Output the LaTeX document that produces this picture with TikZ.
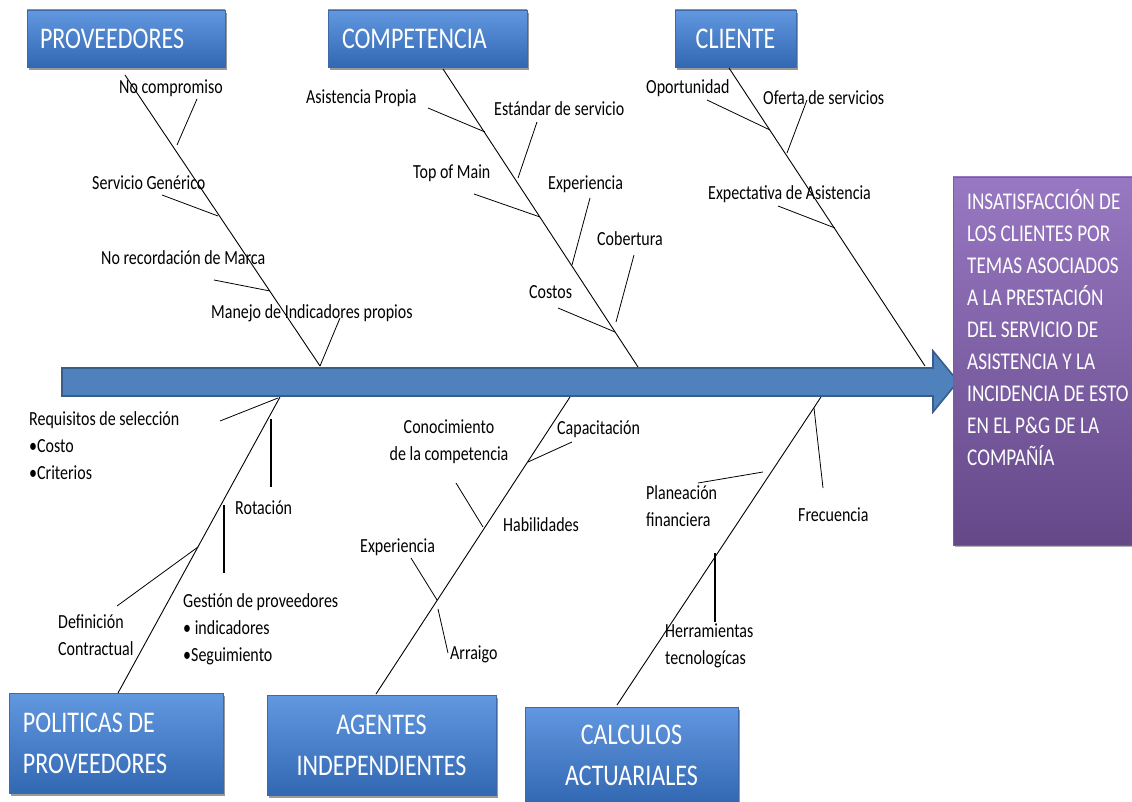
\documentclass[tikz,border=0pt]{standalone}
\usepackage{fontspec}
\setmainfont[FakeStretch=0.8]{Carlito}
\usetikzlibrary{shadows}
\definecolor{boxtop}{RGB}{98,152,224}
\definecolor{boxbot}{RGB}{50,104,178}
\definecolor{boxedge}{RGB}{62,104,166}
\definecolor{arrowfill}{RGB}{79,129,189}
\definecolor{arrowedge}{RGB}{56,93,138}
\definecolor{purtop}{RGB}{152,120,194}
\definecolor{purbot}{RGB}{100,72,136}
\definecolor{puredge}{RGB}{120,92,160}
\begin{document}
\begin{tikzpicture}[x=1pt,y=-1pt,
  catbox/.style={draw=boxedge, line width=0.8pt, top color=boxtop, bottom color=boxbot,
    text=white, inner ysep=0pt, minimum height=#1,
    general shadow={fill=black!40, shadow xshift=2pt, shadow yshift=-3pt},
    font=\fontsize{30}{41}\selectfont},
  effbox/.style={draw=puredge, line width=0.8pt, top color=purtop, bottom color=purbot,
    general shadow={fill=black!30, shadow xshift=2pt, shadow yshift=-2pt}},
  efftxt/.style={anchor=west, inner sep=0pt, text=white, align=left,
    font=\fontsize{24}{32}\selectfont},
  lbl/.style={anchor=west, inner sep=0pt, align=left, font=\fontsize{20}{27}\selectfont},
  bone/.style={black, line width=0.9pt},
  twig/.style={black, line width=0.8pt},
  stick/.style={black, line width=2pt}
]
\useasboundingbox (0,0) rectangle (1132,802);

% ---------- main arrow ----------
\draw[fill=arrowfill, draw=arrowedge, line width=1.6pt, line join=miter]
  (62,368) -- (933,368) -- (933,351) -- (958,381.5) -- (933,412) -- (933,396) -- (62,396) -- cycle;

% ---------- category boxes ----------
\node[catbox=57pt, text width=172pt, inner xsep=13pt, align=flush left] (prov) at (126,38.5) {PROVEEDORES};
\node[catbox=57pt, text width=171pt, inner xsep=14pt, align=flush left] (comp) at (427.5,38.5) {COMPETENCIA};
\node[catbox=57pt, text width=101pt, inner xsep=10pt, align=flush center] (cli) at (735.5,38.5) {CLIENTE};
\node[catbox=100pt, text width=186pt, inner xsep=14pt, align=flush left] (pol) at (116,743) {POLITICAS DE\\PROVEEDORES};
\node[catbox=100pt, text width=209pt, inner xsep=10pt, align=flush center] (age) at (381.5,745) {AGENTES\\INDEPENDIENTES};
\node[catbox=96pt, text width=193pt, inner xsep=10pt, align=flush center] (cal) at (631.5,755) {CALCULOS\\ACTUARIALES};

% ---------- effect box ----------
\node[effbox, minimum width=179pt, minimum height=368pt, inner sep=0pt] (eff) at (1042.5,361) {};
\node[efftxt] (efft) at (967,328) {INSATISFACCIÓN DE\\LOS CLIENTES POR\\TEMAS ASOCIADOS\\A LA PRESTACIÓN\\DEL SERVICIO DE\\ASISTENCIA Y LA\\INCIDENCIA DE ESTO\\EN EL P\&G DE LA\\COMPAÑÍA};

% ---------- coordinates of bones ----------
\coordinate (b1s) at (125,75);  \coordinate (b1e) at (320,366);
\coordinate (b2s) at (443,69);  \coordinate (b2e) at (638,367);
\coordinate (b3s) at (729,68);  \coordinate (b3e) at (925,366);
\coordinate (b4s) at (280,397); \coordinate (b4e) at (118,693);
\coordinate (b5s) at (570,397); \coordinate (b5e) at (376,694);
\coordinate (b6s) at (821,397); \coordinate (b6e) at (617,705);

\draw[bone] (b1s) -- (b1e);
\draw[bone] (b2s) -- (b2e);
\draw[bone] (b3s) -- (b3e);
\draw[bone] (b4s) -- (b4e);
\draw[bone] (b5s) -- (b5e);
\draw[bone] (b6s) -- (b6e);

% ---------- PROVEEDORES twigs ----------
\coordinate (p1a) at (197,99);  \coordinate (p1b) at (177,145);
\coordinate (p2a) at (162,195); \coordinate (p2b) at (218,216);
\coordinate (p3a) at (214,280); \coordinate (p3b) at (270,291);
\coordinate (p4a) at (340,318);
\draw[twig] (p1a) -- (p1b);
\draw[twig] (p2a) -- (p2b);
\draw[twig] (p3a) -- (p3b);
\draw[twig] (p4a) -- (b1e);
\node[lbl] (tp1) at (119,88) {No compromiso};
\node[lbl] (tp2) at (92,183) {Servicio Genérico};
\node[lbl] (tp3) at (101,258) {No recordación de Marca};
\node[lbl] (tp4) at (211,313) {Manejo de Indicadores propios};

% ---------- COMPETENCIA twigs ----------
\coordinate (c1a) at (428,108); \coordinate (c1b) at (485,132);
\coordinate (c2a) at (537,122); \coordinate (c2b) at (518,178);
\coordinate (c3a) at (474,194); \coordinate (c3b) at (540,217);
\coordinate (c4a) at (590,198); \coordinate (c4b) at (572,265);
\coordinate (c5a) at (558,308); \coordinate (c5b) at (615,332);
\coordinate (c6a) at (634,255); \coordinate (c6b) at (616,322);
\draw[twig] (c1a) -- (c1b);
\draw[twig] (c2a) -- (c2b);
\draw[twig] (c3a) -- (c3b);
\draw[twig] (c4a) -- (c4b);
\draw[twig] (c5a) -- (c5b);
\draw[twig] (c6a) -- (c6b);
\node[lbl] (tc1) at (306,98) {Asistencia Propia};
\node[lbl] (tc2) at (494,109) {Estándar de servicio};
\node[lbl] (tc3) at (413,173) {Top of Main};
\node[lbl] (tc4) at (548,184) {Experiencia};
\node[lbl] (tc5) at (597,239) {Cobertura};
\node[lbl] (tc6) at (529,292) {Costos};

% ---------- CLIENTE twigs ----------
\coordinate (k1a) at (707,100); \coordinate (k1b) at (770,130);
\coordinate (k2a) at (807,100); \coordinate (k2b) at (787,153);
\coordinate (k3a) at (778,206); \coordinate (k3b) at (835,228);
\draw[twig] (k1a) -- (k1b);
\draw[twig] (k2a) -- (k2b);
\draw[twig] (k3a) -- (k3b);
\node[lbl] (tk1) at (646,88) {Oportunidad};
\node[lbl] (tk2) at (763,98) {Oferta de servicios};
\node[lbl] (tk3) at (708,194) {Expectativa de Asistencia};

% ---------- POLITICAS twigs ----------
\coordinate (q1a) at (220,421); \coordinate (q1b) at (278,398);
\coordinate (q2a) at (271,419); \coordinate (q2b) at (271,487);
\coordinate (q3a) at (117,606); \coordinate (q3b) at (198,547);
\coordinate (q4a) at (224,505); \coordinate (q4b) at (224,573);
\draw[twig] (q1a) -- (q1b);
\draw[stick] (q2a) -- (q2b);
\draw[twig] (q3a) -- (q3b);
\draw[stick] (q4a) -- (q4b);
\node[lbl] (tq1) at (29,446) {Requisitos de selección\\•Costo\\•Criterios};
\node[lbl] (tq2) at (235,508) {Rotación};
\node[lbl] (tq3) at (58,635) {Definición\\Contractual};
\node[lbl] (tq4) at (183,629) {Gestión de proveedores\\• indicadores\\•Seguimiento};

% ---------- AGENTES twigs ----------
\coordinate (a1a) at (572,442); \coordinate (a1b) at (528,462);
\coordinate (a2a) at (456,483); \coordinate (a2b) at (483,527);
\coordinate (a3a) at (411,558); \coordinate (a3b) at (437,600);
\coordinate (a4a) at (438,609); \coordinate (a4b) at (448,653);
\draw[twig] (a1a) -- (a1b);
\draw[twig] (a2a) -- (a2b);
\draw[twig] (a3a) -- (a3b);
\draw[twig] (a4a) -- (a4b);
\node[lbl, anchor=center, align=center] (ta1) at (449,442) {Conocimiento\\de la competencia};
\node[lbl] (ta2) at (557,429) {Capacitación};
\node[lbl] (ta3) at (503,525) {Habilidades};
\node[lbl] (ta4) at (360,547) {Experiencia};
\node[lbl] (ta5) at (450,654) {Arraigo};

% ---------- CALCULOS twigs ----------
\coordinate (r1a) at (814,408); \coordinate (r1b) at (823,488);
\coordinate (r2a) at (698,483); \coordinate (r2b) at (763,472);
\coordinate (r3a) at (715,553); \coordinate (r3b) at (715,622);
\draw[twig] (r1a) -- (r1b);
\draw[twig] (r2a) -- (r2b);
\draw[stick] (r3a) -- (r3b);
\node[lbl] (tr1) at (646,506) {Planeación\\financiera};
\node[lbl] (tr2) at (798,515) {Frecuencia};
\node[lbl] (tr3) at (665,646) {Herramientas\\tecnologícas};
\end{tikzpicture}
\end{document}
